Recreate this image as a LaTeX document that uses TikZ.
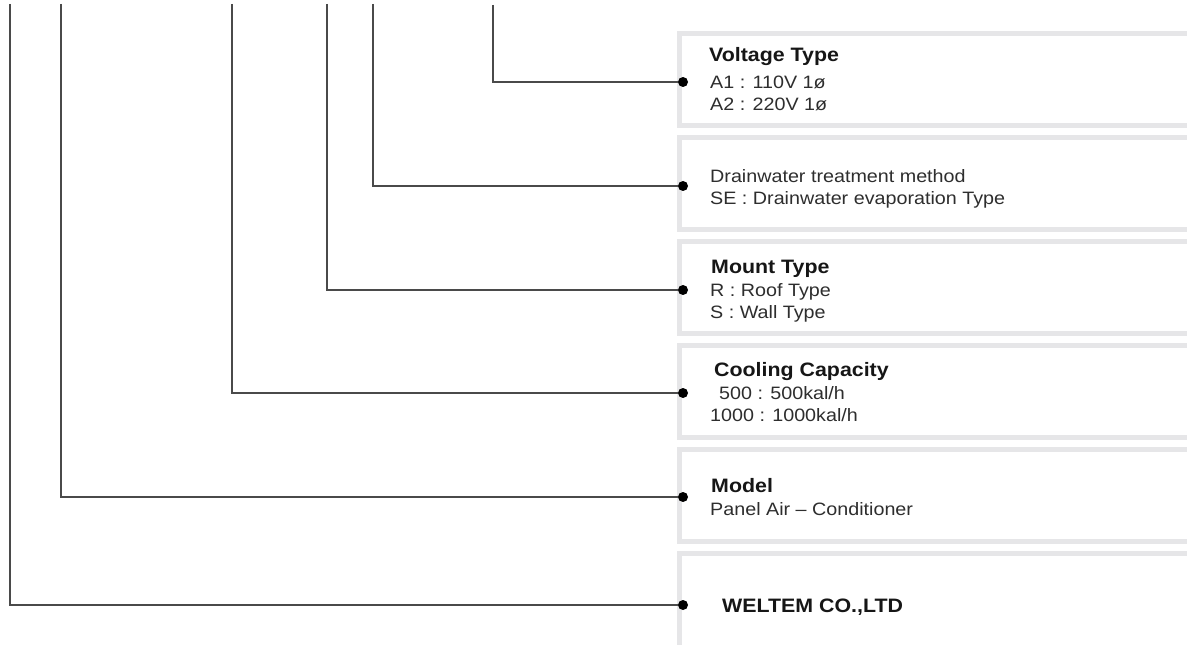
\documentclass[tikz,border=0pt]{standalone}
\usepackage{fontspec}
\setmainfont{Liberation Sans}[FakeStretch=1.1]
\usetikzlibrary{positioning}
\definecolor{CodeFrame}{HTML}{E6E6E8}
\definecolor{CodeLead}{HTML}{4A4A4A}
\definecolor{CodeHead}{HTML}{161616}
\definecolor{CodeCopy}{HTML}{2E2E2E}
\tikzset{
  panel/.style={draw=CodeFrame,line width=5bp,fill=white,anchor=north west,
                outer sep=0pt,inner sep=0pt,minimum width=560bp,minimum height=92bp},
  pin/.style={circle,fill=black,inner sep=0pt,minimum size=10bp},
  lead/.style={CodeLead,line width=1.1bp},
  head/.style={text=CodeHead,font=\fontsize{19.5}{22}\selectfont\bfseries,
               anchor=base west,inner sep=0pt},
  copy/.style={text=CodeCopy,font=\fontsize{18}{20}\selectfont,
               anchor=base west,inner sep=0pt},
}

\begin{document}
\begin{tikzpicture}[x=1bp,y=-1bp]
    \clip (0,0) rectangle (1187,645);
    \fill[white] (0,0) rectangle (1187,645);

    % the six code fields, open to the right
    \node[panel] (bvolt)  at (679.5,33.5)  {};
    \node[panel] (bdrain) at (679.5,137.5) {};
    \node[panel] (bmount) at (679.5,241.5) {};
    \node[panel] (bcool)  at (679.5,345.5) {};
    \node[panel] (bmodel) at (679.5,449.5) {};
    \node[panel,minimum height=140bp] (bmaker) at (679.5,553.5) {};

    % pins on the left edge of each field
    \node[pin] (pvolt)  at (683,82)  {};
    \node[pin] (pdrain) at (683,186) {};
    \node[pin] (pmount) at (683,290) {};
    \node[pin] (pcool)  at (683,393) {};
    \node[pin] (pmodel) at (683,497) {};
    \node[pin] (pmaker) at (683,605) {};

    % leaders come down from the code letters above
    \coordinate (tvolt)  at (493,5);
    \coordinate (tdrain) at (373,4);
    \coordinate (tmount) at (327,4);
    \coordinate (tcool)  at (232,4);
    \coordinate (tmodel) at (61,4);
    \coordinate (tmaker) at (10,4);
    \draw[lead] (tvolt)  |- (pvolt);
    \draw[lead] (tdrain) |- (pdrain);
    \draw[lead] (tmount) |- (pmount);
    \draw[lead] (tcool)  |- (pcool);
    \draw[lead] (tmodel) |- (pmodel);
    \draw[lead] (tmaker) |- (pmaker);

    \node[head] (hvolt) at (709,62) {Voltage Type};
    \node[copy] (cvolt1) at (710,89)  {A1 : 110V 1ø};
    \node[copy] (cvolt2) at (710,111) {A2 : 220V 1ø};

    \node[copy] (cdrain1) at (710,183) {Drainwater treatment method};
    \node[copy] (cdrain2) at (710,205) {SE : Drainwater evaporation Type};

    \node[head] (hmount) at (711,274) {Mount Type};
    \node[copy] (cmount1) at (710,297) {R : Roof Type};
    \node[copy] (cmount2) at (710,319) {S : Wall Type};

    \node[head] (hcool) at (714,376) {Cooling Capacity};
    \node[copy] (ccool1) at (719,399) {500 : 500kal/h};
    \node[copy] (ccool2) at (710,421) {1000 : 1000kal/h};

    \node[head] (hmodel) at (711,492) {Model};
    \node[copy] (cmodel) at (710,515) {Panel Air – Conditioner};

    \node[head] (hmaker) at (722,612) {WELTEM CO.,LTD};
\end{tikzpicture}
\end{document}
